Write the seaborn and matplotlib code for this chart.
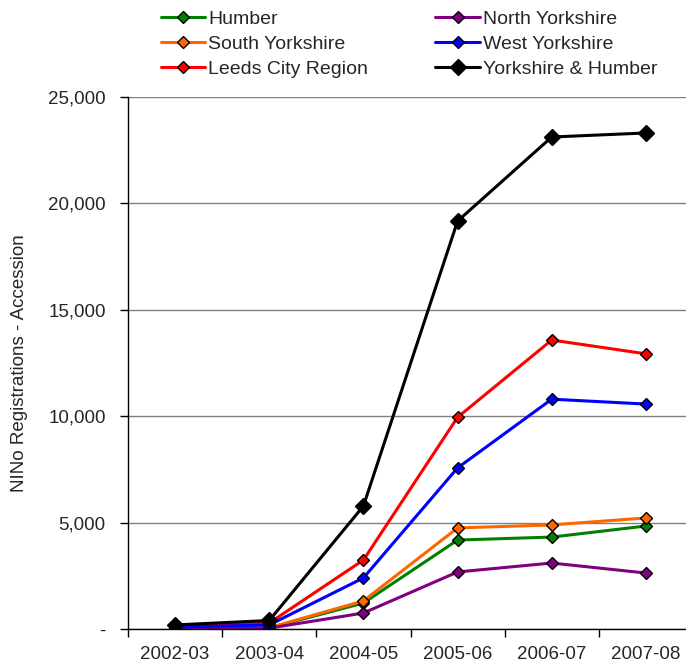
import seaborn as sns
import pandas as pd
import matplotlib.pyplot as plt
from matplotlib.ticker import FuncFormatter, FixedLocator

sns.set_theme(style="white")
plt.rcParams['font.family'] = ['Liberation Sans', 'DejaVu Sans']

years = ["2002-03", "2003-04", "2004-05", "2005-06", "2006-07", "2007-08"]
humber = [20, 50, 1220, 4180, 4320, 4840]
north_yorks = [10, 40, 750, 2680, 3100, 2630]
south_yorks = [30, 60, 1320, 4750, 4890, 5220]
west_yorks = [90, 190, 2400, 7570, 10800, 10570]
leeds_city = [120, 280, 3240, 9950, 13580, 12930]
yorks_humber = [190, 400, 5780, 19170, 23120, 23310]

series = {
    "Humber": humber,
    "South Yorkshire": south_yorks,
    "Leeds City Region": leeds_city,
    "North Yorkshire": north_yorks,
    "West Yorkshire": west_yorks,
    "Yorkshire & Humber": yorks_humber,
}
colors = {
    "Humber": "#008000",
    "South Yorkshire": "#FF6600",
    "Leeds City Region": "#FF0000",
    "North Yorkshire": "#800080",
    "West Yorkshire": "#0000FF",
    "Yorkshire & Humber": "#000000",
}

rows = []
for name, vals in series.items():
    for yr, v in zip(years, vals):
        rows.append({"Year": yr, "Region": name, "Value": v})
df = pd.DataFrame(rows)

fig = plt.figure(figsize=(6.86, 6.66), dpi=100)
ax = fig.add_axes([128 / 686, 37 / 666, 565 / 686, 532 / 666])

for name in series:
    big = name == "Yorkshire & Humber"
    sns.lineplot(data=df[df["Region"] == name], x="Year", y="Value", ax=ax,
                 color=colors[name], label=name, marker="D",
                 markersize=8 if big else 6, markeredgecolor="black",
                 markeredgewidth=1.0, linewidth=2.2, sort=False)

ax.set_xlim(-0.5, 5.5)
ax.set_ylim(0, 25000)
ax.yaxis.set_major_locator(FixedLocator([0, 5000, 10000, 15000, 20000, 25000]))
ax.yaxis.set_major_formatter(FuncFormatter(lambda v, p: "-" if v == 0 else f"{int(v):,}"))
ax.yaxis.grid(True, color="#808080", linewidth=1.0)
ax.xaxis.grid(False)
ax.set_axisbelow(True)

ax.set_xticks(range(len(years)))
ax.set_xticklabels(years)
ax.set_xticks([i - 0.5 for i in range(len(years) + 1)], minor=True)
ax.tick_params(axis="x", which="major", length=0, labelsize=13.5, pad=12)
ax.tick_params(axis="x", which="minor", length=6, width=1, color="black", direction="out", bottom=True)
ax.tick_params(axis="y", length=6, width=1, color="black", direction="out", left=True,
               labelsize=13.5, pad=10)

for s in ["top", "right"]:
    ax.spines[s].set_visible(False)
for s in ["left", "bottom"]:
    ax.spines[s].set_color("black")
    ax.spines[s].set_linewidth(1.0)

ax.set_xlabel("")
ax.set_ylabel("NINo Registrations - Accession", fontsize=13.5)
ax.yaxis.set_label_coords(-0.177, 0.5)

ax.legend(ncol=2, frameon=False, fontsize=14, loc="upper left",
          bbox_to_anchor=(150 / 686, 1.0), bbox_transform=fig.transFigure,
          handlelength=2.3, handletextpad=0.15, columnspacing=3.45,
          labelspacing=0.37, borderaxespad=0.15)

fig.savefig("out.png", dpi=100, facecolor="white")
